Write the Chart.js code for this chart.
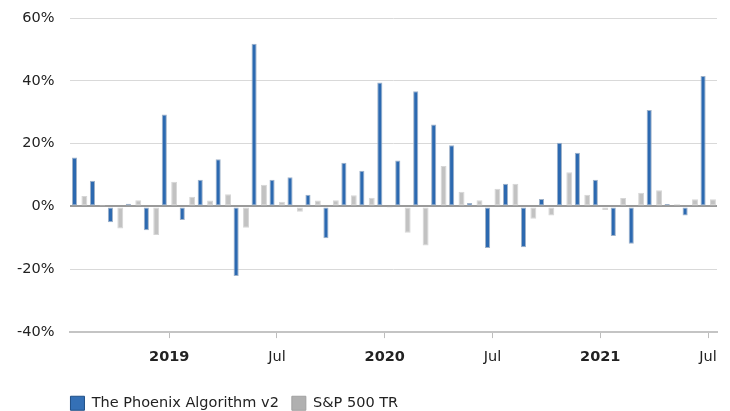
<!DOCTYPE html>
<html>
<head>
<meta charset="utf-8">
<script src="https://cdn.jsdelivr.net/npm/chart.js@4"></script>
<style>
  html, body { margin: 0; padding: 0; background: #ffffff; }
  #wrap { width: 730px; height: 411px; }
</style>
</head>
<body>
<div id="wrap"><canvas id="c" width="730" height="411"></canvas></div>
<script>
// Categories: monthly periods Aug 2018 .. Jul 2021
const months = [
  '2018-08','2018-09','2018-10','2018-11','2018-12',
  '2019-01','2019-02','2019-03','2019-04','2019-05','2019-06','2019-07','2019-08','2019-09','2019-10','2019-11','2019-12',
  '2020-01','2020-02','2020-03','2020-04','2020-05','2020-06','2020-07','2020-08','2020-09','2020-10','2020-11','2020-12',
  '2021-01','2021-02','2021-03','2021-04','2021-05','2021-06','2021-07'
];
// X-axis tick labels (blank = no tick)
const tickLabels = [
  '','','','','',
  '2019','','','','','','Jul','','','','','',
  '2020','','','','','','Jul','','','','','',
  '2021','','','','','','Jul'
];
const yearTicks = ['2019','2020','2021'];
// Series (monthly return, %)
const phoenix = [
  15.6, 8.2, -5.0, 0.9, -7.6,
  29.3, -4.3, 8.5, 15.0, -22.1, 51.8, 8.5, 9.3, 3.7, -10.1, 13.9, 11.4,
  39.5, 14.6, 36.7, 26.1, 19.5, 1.1, -13.2, 7.2, -13.0, 2.4, 20.3, 17.1,
  8.5, -9.4, -11.9, 30.7, 0.8, -2.9, 41.5
];
const sp500 = [
  3.3, 0.5, -7.0, 2.0, -9.1,
  7.9, 3.1, 1.9, 3.9, -6.8, 6.9, 1.5, -1.7, 1.9, 2.0, 3.6, 2.8,
  -0.1, -8.4, -12.4, 12.9, 4.7, 2.0, 5.6, 7.2, -3.9, -2.9, 10.9, 3.7,
  -1.1, 2.7, 4.4, 5.2, 0.7, 2.3, 2.3
];
const seriesNames = ['The Phoenix Algorithm v2', 'S&P 500 TR'];
const yTicks = { min: -40, max: 60, step: 20 };

const FONT = 'DejaVu Sans';
const FS = 14.5;

const legendShift = {
  id: 'legendShift',
  afterLayout(chart) {
    const lg = chart.legend;
    if (!lg) return;
    const pad = lg.options.labels.padding;
    const newLeft = chart.chartArea.left - pad;
    const dx = newLeft - lg.left;
    lg.left += dx; lg.right += dx;
    const newTop = 396 - pad;
    const dy = newTop - lg.top;
    lg.top += dy; lg.bottom += dy;
  }
};

new Chart(document.getElementById('c'), {
  type: 'bar',
  data: {
    labels: months,
    datasets: [
      {
        label: seriesNames[0],
        data: phoenix,
        backgroundColor: '#2c69b0',
        borderColor: '#9fb2c9',
        borderWidth: 1,
        borderSkipped: false,
        categoryPercentage: 1.1,
        barPercentage: 0.52
      },
      {
        label: seriesNames[1],
        data: sp500,
        backgroundColor: '#c2c2c2',
        borderColor: '#d6d6d6',
        borderWidth: 1,
        borderSkipped: false,
        categoryPercentage: 1.1,
        barPercentage: 0.6
      }
    ]
  },
  options: {
    responsive: false,
    animation: false,
    devicePixelRatio: 1,
    layout: { padding: { top: 18, right: 13, left: 1, bottom: -2 } },
    font: { family: FONT, size: FS },
    plugins: {
      tooltip: { enabled: false },
      legend: {
        position: 'bottom',
        align: 'start',
        labels: {
          font: { family: FONT, size: FS },
          color: '#222',
          boxWidth: 14,
          boxHeight: 14,
          padding: 13,
          generateLabels(chart) {
            const fills = ['#3470b6', '#b0b0b0'];
            const strokes = ['#1f4f86', '#a0a0a0'];
            return chart.data.datasets.map((ds, i) => ({
              text: ds.label,
              fillStyle: fills[i],
              strokeStyle: strokes[i],
              lineWidth: 1,
              hidden: false,
              datasetIndex: i,
              fontColor: '#222'
            }));
          }
        }
      }
    },
    scales: {
      x: {
        grid: {
          display: true,
          drawOnChartArea: false,
          drawTicks: true,
          tickLength: 6,
          offset: false,
          color: (ctx) => (ctx.tick && tickLabels[ctx.index] ? '#bdbdbd' : 'rgba(0,0,0,0)'),
          lineWidth: 1
        },
        border: { display: true, color: '#c4c4c4', width: 2 },
        ticks: {
          autoSkip: false,
          maxRotation: 0,
          padding: 10,
          color: '#222',
          callback: (v, i) => tickLabels[i],
          font: (ctx) => ({
            family: FONT,
            size: FS,
            weight: (ctx.tick && yearTicks.includes(tickLabels[ctx.index])) ? 'bold' : 'normal'
          })
        }
      },
      y: {
        min: yTicks.min,
        max: yTicks.max,
        afterFit(scale) {
          scale.paddingTop = 9;
          scale.paddingBottom = 9;
        },
        grid: {
          drawTicks: false,
          color: (ctx) => (ctx.tick && ctx.tick.value === 0 ? '#9a9a9a' : '#d9d9d9'),
          lineWidth: (ctx) => (ctx.tick && ctx.tick.value === 0 ? 2 : 1)
        },
        border: { display: false },
        ticks: {
          stepSize: yTicks.step,
          padding: 16,
          color: '#222',
          font: { family: FONT, size: FS },
          callback: (v) => v + '%'
        }
      }
    }
  },
  plugins: [legendShift]
});
</script>
</body>
</html>
